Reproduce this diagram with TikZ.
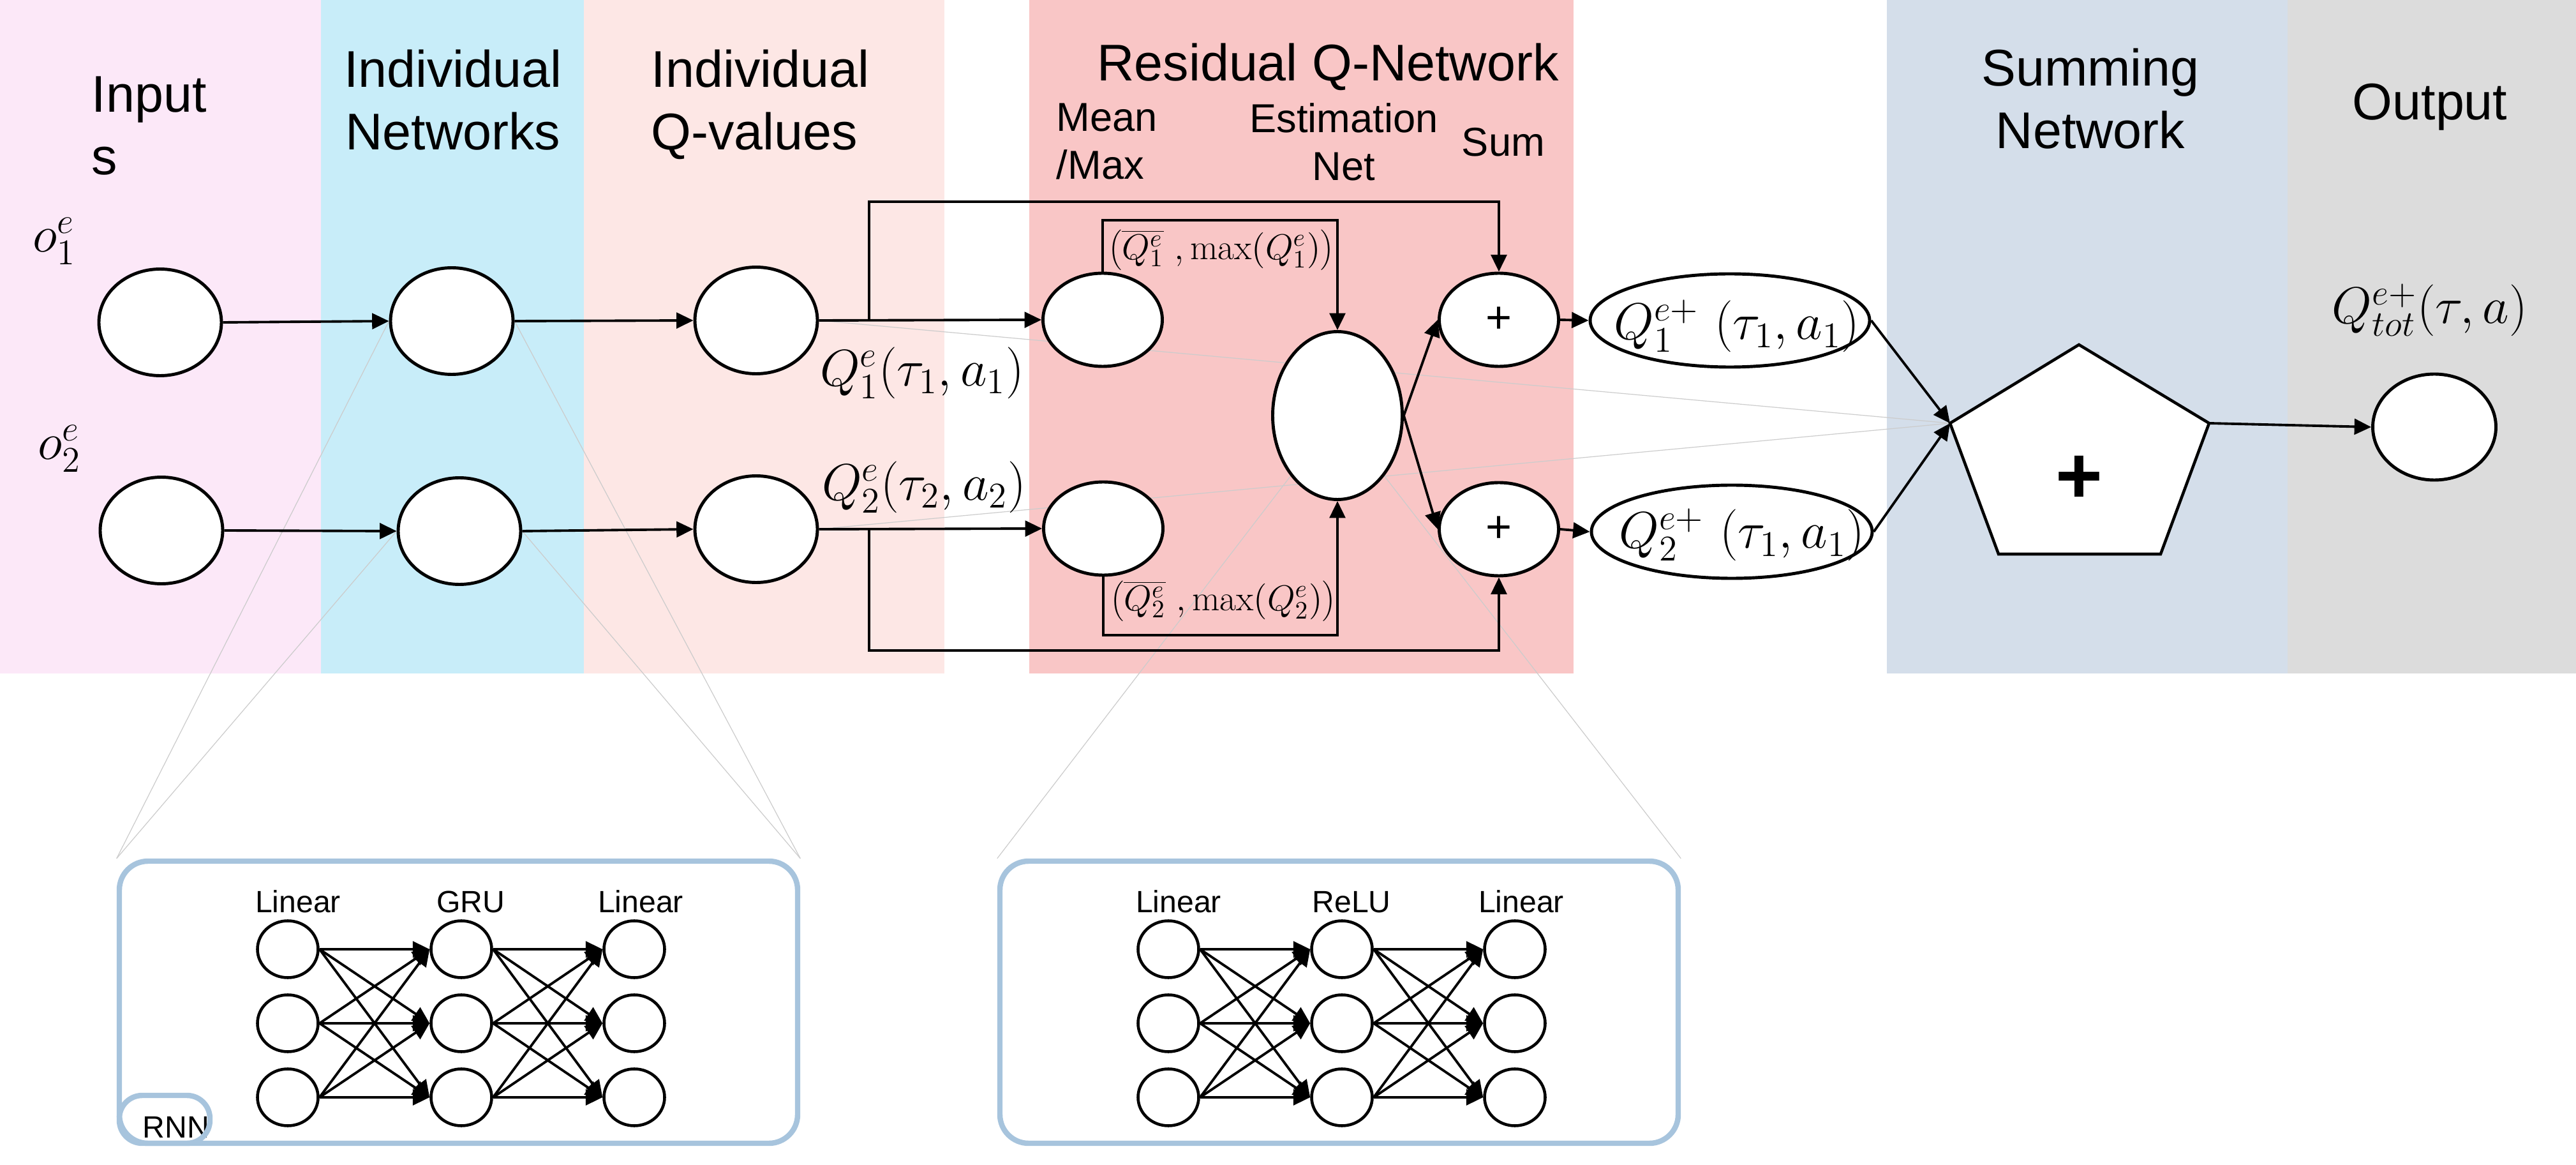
\RequirePackage{fix-cm}
\documentclass[tikz,border=0pt]{standalone}
\usepackage{fontspec}
\newfontfamily\headfont{Liberation Sans}
\usetikzlibrary{arrows.meta,shapes.geometric,backgrounds}
\definecolor{inbg}{HTML}{FCE8F8}
\definecolor{netbg}{HTML}{C8EDF9}
\definecolor{qbg}{HTML}{FDE7E5}
\definecolor{resbg}{HTML}{F9C6C6}
\definecolor{sumbg}{HTML}{D4DEEA}
\definecolor{outbg}{HTML}{DCDCDC}
\definecolor{boxblue}{HTML}{A7C4DD}
\begin{document}
\begin{tikzpicture}[unit/.style={shape=ellipse, draw=black, line width=1.4pt, fill=white, inner sep=0pt, minimum width=1.92cm, minimum height=1.67cm},
	small/.style={unit, minimum width=1.87cm, minimum height=1.46cm},
	neuron/.style={unit, line width=1.3pt, minimum width=0.95cm, minimum height=0.89cm},
	conn/.style={line width=1.1pt, -{Triangle[length=7.5pt,width=7pt]}},
	zoomline/.style={draw=black!20, line width=0.35pt},
	head/.style={font=\headfont\fontsize{23}{28}\selectfont, inner sep=0pt},
	subhead/.style={font=\headfont\fontsize{18}{21.3}\selectfont, inner sep=0pt, align=center, anchor=north},
	layer/.style={font=\headfont\fontsize{13.7}{16}\selectfont, inner sep=0pt, anchor=base},
	mathlbl/.style={font=\fontsize{23}{28}\selectfont, inner sep=0pt},
	pairlbl/.style={font=\fontsize{16}{19}\selectfont, inner sep=0pt},
	detail/.style={draw=boxblue, line width=2.4pt, rounded corners=0.45cm, minimum width=10.63cm, minimum height=4.42cm}]
	\useasboundingbox (0,0) rectangle (40.37,-18.25);
	\node (hin) at (1.43,-1.19) [head, anchor=north west, align=left] {Input\\s};
	\node (hnet) at (7.10,-0.77) [head, anchor=north, align=center] {Individual\\Networks};
	\node (hq) at (10.20,-0.77) [head, anchor=north west, align=left] {Individual\\Q-values};
	\node (hres) at (20.81,-0.67) [head, anchor=north] {Residual Q-Network};
	\node (hsum) at (32.76,-0.75) [head, anchor=north, align=center] {Summing\\Network};
	\node (hout) at (38.08,-1.30) [head, anchor=north] {Output};
	\node (hmean) at (16.55,-1.61) [subhead, anchor=north west, align=left] {Mean\\/Max};
	\node (hest) at (21.06,-1.61) [subhead] {Estimation\\Net};
	\node (hplus) at (23.56,-2.00) [subhead] {Sum};
	\node (in1) at (2.51,-5.05) [unit] {};
	\node (in2) at (2.53,-8.31) [unit] {};
	\node (net1) at (7.08,-5.03) [unit] {};
	\node (net2) at (7.20,-8.32) [unit] {};
	\node (q1) at (11.85,-5.02) [unit] {};
	\node (q2) at (11.85,-8.29) [unit] {};
	\node (mean1) at (17.28,-5.01) [small] {};
	\node (mean2) at (17.29,-8.28) [small] {};
	\node (est) at (20.96,-6.51) [unit, minimum width=2.03cm, minimum height=2.63cm] {};
	\node (sum1) at (23.49,-5.01) [small, font=\headfont\fontsize{20}{24}\selectfont] {+};
	\node (sum2) at (23.49,-8.29) [small, font=\headfont\fontsize{20}{24}\selectfont] {+};
	\node (out1) at (27.11,-5.02) [small, minimum width=4.38cm] {};
	\node (out2) at (27.14,-8.33) [small, minimum width=4.40cm] {};
	\node (outc) at (38.15,-6.69) [unit, minimum width=1.93cm, minimum height=1.66cm] {};
	\node (o1lbl) at (0.85,-3.78) [mathlbl] {$o_1^e$};
	\node (o2lbl) at (0.93,-7.03) [mathlbl] {$o_2^e$};
	\node (q1lbl) at (14.45,-5.84) [mathlbl] {$Q_1^e(\tau_1,a_1)$};
	\node (q2lbl) at (14.48,-7.63) [mathlbl] {$Q_2^e(\tau_2,a_2)$};
	\node (m1lbl) at (19.14,-3.92) [pairlbl] {$\left(\overline{Q_1^e}\ ,\max(Q_1^e)\right)$};
	\node (m2lbl) at (19.17,-9.42) [pairlbl] {$\left(\overline{Q_2^e}\ ,\max(Q_2^e)\right)$};
	\node (out1lbl) at (27.22,-5.11) [mathlbl] {$Q_1^{e+}\ (\tau_1,a_1)$};
	\node (out2lbl) at (27.30,-8.38) [mathlbl] {$Q_2^{e+}\ (\tau_1,a_1)$};
	\node (totlbl) at (38.08,-4.86) [mathlbl] {$Q_{tot}^{e+}(\tau,a)$};
	\coordinate (pt) at (32.58,-5.40);
	\coordinate (pl) at (30.56,-6.63);
	\coordinate (pr) at (34.62,-6.63);
	\coordinate (pbl) at (31.32,-8.68);
	\coordinate (pbr) at (33.86,-8.68);
	\draw [line width=1.3pt, fill=white] (pt) -- (pr) -- (pbr) -- (pbl) -- (pl) -- cycle;
	\node (plus) at (32.58,-7.51) [inner sep=0pt, font=\headfont\bfseries\fontsize{36}{40}\selectfont] {+};
	\coordinate (br1) at (13.62,-5.02);
	\coordinate (top1) at (13.62,-3.16);
	\coordinate (br2) at (13.62,-8.29);
	\coordinate (bot2) at (13.62,-10.19);
	\coordinate (mtop1) at (20.96,-3.45);
	\coordinate (mbot2) at (20.96,-9.95);
	\draw [conn] (in1.east) -- (net1.west);
	\draw [conn] (in2.east) -- (net2.west);
	\draw [conn] (net1.east) -- (q1.west);
	\draw [conn] (net2.east) -- (q2.west);
	\draw [conn] (q1.east) -- (mean1.west);
	\draw [conn] (q2.east) -- (mean2.west);
	\draw [conn] (br1) -- (top1) -| (sum1.north);
	\draw [conn] (br2) -- (bot2) -| (sum2.south);
	\draw [conn] (mean1.north) |- (mtop1) -- (est.north);
	\draw [conn] (mean2.south) |- (mbot2) -- (est.south);
	\draw [conn] (est.east) -- (sum1.west);
	\draw [conn] (est.east) -- (sum2.west);
	\draw [conn] (sum1.east) -- (out1.west);
	\draw [conn] (sum2.east) -- (out2.west);
	\draw [conn] (out1.east) -- (pl);
	\draw [conn] (out2.east) -- (pl);
	\draw [conn] (pr) -- (outc.west);
	\foreach \b/\bx/\lay in {rnn/0/GRU, res/13.8/ReLU} {
		\node (\b-box) at (7.185+\bx,-15.70) [detail] {};
		\node (\b-lin1) at (4.67+\bx,-14.29) [layer] {Linear};
		\node (\b-mid) at (7.38+\bx,-14.29) [layer] {\lay};
		\node (\b-lin2) at (10.04+\bx,-14.29) [layer] {Linear};
		\foreach \c/\cx in {1/4.51,2/7.23,3/9.94}
			\foreach \r/\ry in {1/-14.87,2/-16.03,3/-17.19}
				\node (\b-\c-\r) at (\cx+\bx,\ry) [neuron] {};
		\foreach \i in {1,2,3}
			\foreach \j in {1,2,3} {
				\draw [conn] (\b-1-\i.east) -- (\b-2-\j.west);
				\draw [conn] (\b-2-\i.east) -- (\b-3-\j.west);
			}
	}
	\node (rnntext) at (2.23,-17.82) [layer, anchor=base west] {RNN};
	\node (rnntag) at (2.58,-17.535) [detail, rounded corners=0.36cm, minimum width=1.42cm, minimum height=0.75cm] {};
	\begin{pgfonlayer}{background}
		\fill [inbg] (0,0) rectangle (5.03,-10.55);
		\fill [netbg] (5.03,0) rectangle (9.15,-10.55);
		\fill [qbg] (9.15,0) rectangle (14.80,-10.55);
		\fill [resbg] (16.13,0) rectangle (24.66,-10.55);
		\fill [sumbg] (29.57,0) rectangle (35.85,-10.55);
		\fill [outbg] (35.85,0) rectangle (40.37,-10.55);
		\draw [zoomline] (net1.west) -- (rnn-box.north west);
		\draw [zoomline] (net1.east) -- (rnn-box.north east);
		\draw [zoomline] (net2.west) -- (rnn-box.north west);
		\draw [zoomline] (net2.east) -- (rnn-box.north east);
		\draw [zoomline] (est.south west) -- (res-box.north west);
		\draw [zoomline] (est.south east) -- (res-box.north east);
		\draw [zoomline] (q1.east) -- (pl);
		\draw [zoomline] (q2.east) -- (pl);
	\end{pgfonlayer}
\end{tikzpicture}
\end{document}
